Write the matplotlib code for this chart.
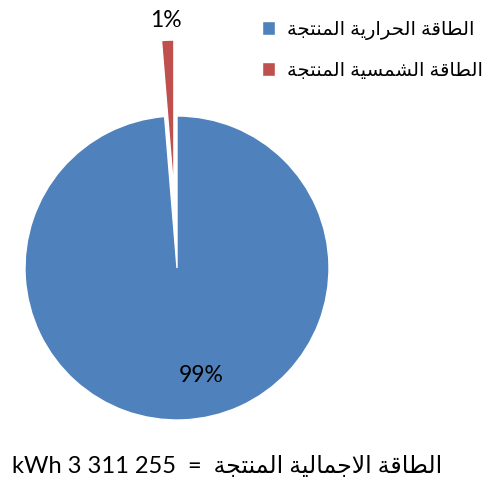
import matplotlib
matplotlib.use('Agg')
import matplotlib.pyplot as plt

# data
labels_ar = ['الطاقة الحرارية المنتجة', 'الطاقة الشمسية المنتجة']
shares = [98.7, 1.3]
colors = ['#4F81BD', '#C0504D']
total_label_ar = 'الطاقة الاجمالية المنتجة'
total_value = 'kWh 3 311 255'

# minimal arabic shaping (matplotlib has no bidi / joining)
FORMS = {
    'ا': ('\uFE8D', '\uFE8E', None, None),
    'ب': ('\uFE8F', '\uFE90', '\uFE91', '\uFE92'),
    'ة': ('\uFE93', '\uFE94', None, None),
    'ت': ('\uFE95', '\uFE96', '\uFE97', '\uFE98'),
    'ج': ('\uFE9D', '\uFE9E', '\uFE9F', '\uFEA0'),
    'ح': ('\uFEA1', '\uFEA2', '\uFEA3', '\uFEA4'),
    'ر': ('\uFEAD', '\uFEAE', None, None),
    'س': ('\uFEB1', '\uFEB2', '\uFEB3', '\uFEB4'),
    'ش': ('\uFEB5', '\uFEB6', '\uFEB7', '\uFEB8'),
    'ط': ('\uFEC1', '\uFEC2', '\uFEC3', '\uFEC4'),
    'ق': ('\uFED5', '\uFED6', '\uFED7', '\uFED8'),
    'ل': ('\uFEDD', '\uFEDE', '\uFEDF', '\uFEE0'),
    'م': ('\uFEE1', '\uFEE2', '\uFEE3', '\uFEE4'),
    'ن': ('\uFEE5', '\uFEE6', '\uFEE7', '\uFEE8'),
    'ي': ('\uFEF1', '\uFEF2', '\uFEF3', '\uFEF4'),
}
LAM_ALEF = ('\uFEFB', '\uFEFC')


def joins_next(ch):
    return ch in FORMS and FORMS[ch][2] is not None


def shape(text):
    # returns visual (left-to-right) string
    out = []
    chars = list(text)
    i = 0
    while i < len(chars):
        c = chars[i]
        prev = chars[i - 1] if i > 0 else ' '
        linked = i > 0 and joins_next(prev)
        if c == 'ل' and i + 1 < len(chars) and chars[i + 1] == 'ا':
            out.append(LAM_ALEF[1] if linked else LAM_ALEF[0])
            i += 2
            continue
        if c not in FORMS:
            out.append(c)
            i += 1
            continue
        nxt = chars[i + 1] if i + 1 < len(chars) else ' '
        to_next = joins_next(c) and nxt in FORMS
        iso, fin, ini, med = FORMS[c]
        if linked and to_next:
            out.append(med)
        elif linked:
            out.append(fin)
        elif to_next:
            out.append(ini)
        else:
            out.append(iso)
        i += 1
    return ''.join(out)[::-1]


fam = ['Lato', 'DejaVu Sans']
plt.rcParams['font.family'] = fam

fig = plt.figure(figsize=(4.93, 4.82), dpi=100)
ax = fig.add_axes([0, 0, 1, 1])

wedges, texts, autotexts = ax.pie(
    shares, colors=colors, startangle=90, counterclock=False,
    explode=[0, 0.5], autopct='%1.0f%%', radius=1,
    wedgeprops=dict(edgecolor='white', linewidth=1),
    textprops=dict(fontsize=16.5, color='black'))
autotexts[0].set_position((0.16, -0.71))
autotexts[1].set_position((-0.07, 1.63))

# map 152 px per unit with pie centre at (177, 268) px
ax.set_aspect('auto')
ax.set_xlim(-177 / 152, (493 - 177) / 152)
ax.set_ylim(-(482 - 268) / 152, 268 / 152)
ax.axis('off')

leg = fig.legend(wedges, [shape(s) for s in labels_ar], loc='upper left',
                 bbox_to_anchor=(244 / 493, 1 - 3 / 482), frameon=False,
                 fontsize=14, handlelength=0.7, handleheight=0.7,
                 handletextpad=0.6, labelspacing=1.15)

fig.text(12 / 493, 1 - 466 / 482, total_value + '  =  ' + shape(total_label_ar),
         fontsize=17, va='center', ha='left')

fig.savefig('out.png', dpi=100)
